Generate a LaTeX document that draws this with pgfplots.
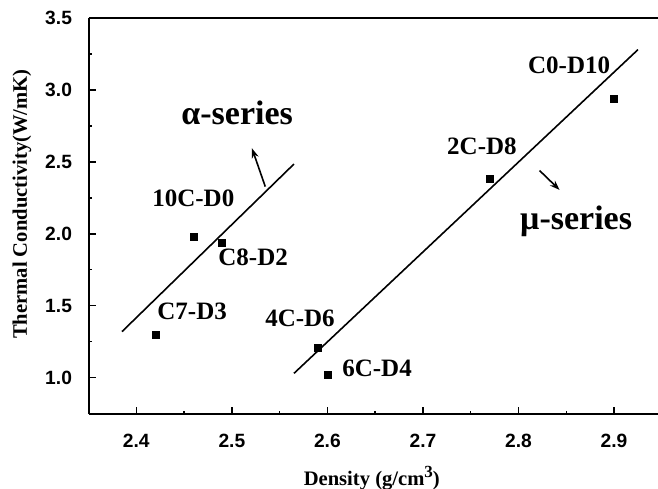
\documentclass[border=0pt]{standalone}
\usepackage{fontspec}
\setmainfont{Liberation Serif}
\newfontfamily\arialfont{Liberation Sans}
\usepackage{pgfplots}
\pgfplotsset{compat=1.18}
\usetikzlibrary{calc,arrows.meta}

% sample points (density, conductivity)
\pgfplotstableread{
x y
2.42 1.30
2.46 1.98
2.49 1.94
2.59 1.21
2.60 1.02
2.77 2.38
2.90 2.94
}\samples

\begin{document}
\begin{tikzpicture}
\begin{axis}[
    name=ax,
    scale only axis,
    width=284.5pt, height=198pt,
    xmin=2.3505, xmax=2.946,
    ymin=0.7476, ymax=3.5,
    axis x line*=box, axis y line*=left,
    xtick pos=left,
    xtick={2.4,2.5,2.6,2.7,2.8,2.9},
    ytick={1.0,1.5,2.0,2.5,3.0,3.5},
    minor x tick num=1, minor y tick num=1,
    tick align=inside,
    major tick length=3.5pt, minor tick length=1.75pt,
    every tick/.style={black, line width=0.7pt},
    axis line style={line width=0.8pt},
    /pgf/number format/assume math mode=true,
    /pgf/number format/.cd, fixed, fixed zerofill, precision=1, /pgfplots/.cd,
    ticklabel style={font=\arialfont\bfseries\fontsize{9.6}{9.6}\selectfont},
    yticklabel style={xshift=-5pt},
    xticklabel style={yshift=-6.5pt},
    xlabel={Density (g/cm\raisebox{0.75ex}{\bfseries\fontsize{8.5}{8.5}\selectfont 3})},
    ylabel={Thermal Conductivity(W/mK)},
    label style={font=\bfseries\fontsize{10.3}{10.3}\selectfont},
    xlabel style={at={(axis description cs:0.497,-0.162)}, anchor=center},
    ylabel style={at={(axis description cs:-0.118,0.53)}, anchor=center},
]
\addplot[only marks, mark=square*, mark size=1.75pt, black] table[x=x, y=y] {\samples};
% alpha-series fit
\addplot[black, line width=0.8pt] coordinates {(2.385,1.32) (2.565,2.485)};
% mu-series fit
\addplot[black, line width=0.8pt] coordinates {(2.565,1.03) (2.925,3.28)};
% arrows
\addplot[black, line width=0.8pt, -{Stealth[length=5pt,width=3.5pt]}] coordinates {(2.535,2.328) (2.521,2.595)};
\addplot[black, line width=0.8pt, -{Stealth[length=5pt,width=3.5pt]}] coordinates {(2.822,2.44) (2.843,2.305)};

\begin{scope}[every node/.style={inner sep=0pt, anchor=base west, font=\bfseries\fontsize{12.5}{12.5}\selectfont}]
\node at (axis cs:2.4164,2.187) {10C-D0};
\node at (axis cs:2.4855,1.777) {C8-D2};
\node at (axis cs:2.4217,1.401) {C7-D3};
\node at (axis cs:2.5346,1.3526) {4C-D6};
\node at (axis cs:2.6152,1.005) {6C-D4};
\node at (axis cs:2.725,2.549) {2C-D8};
\node at (axis cs:2.8097,3.112) {C0-D10};
\node[font=\bfseries\fontsize{17}{17}\selectfont] at (axis cs:2.4468,2.757) {α-series};
\node[font=\bfseries\fontsize{17}{17}\selectfont] at (axis cs:2.8014,2.027) {μ-series};
\end{scope}
\end{axis}
\pgfresetboundingbox
\path[use as bounding box] ($(ax.south west)+(-44.5pt,-37pt)$) rectangle ($(ax.north east)+(0,9pt)$);
\end{tikzpicture}
\end{document}
